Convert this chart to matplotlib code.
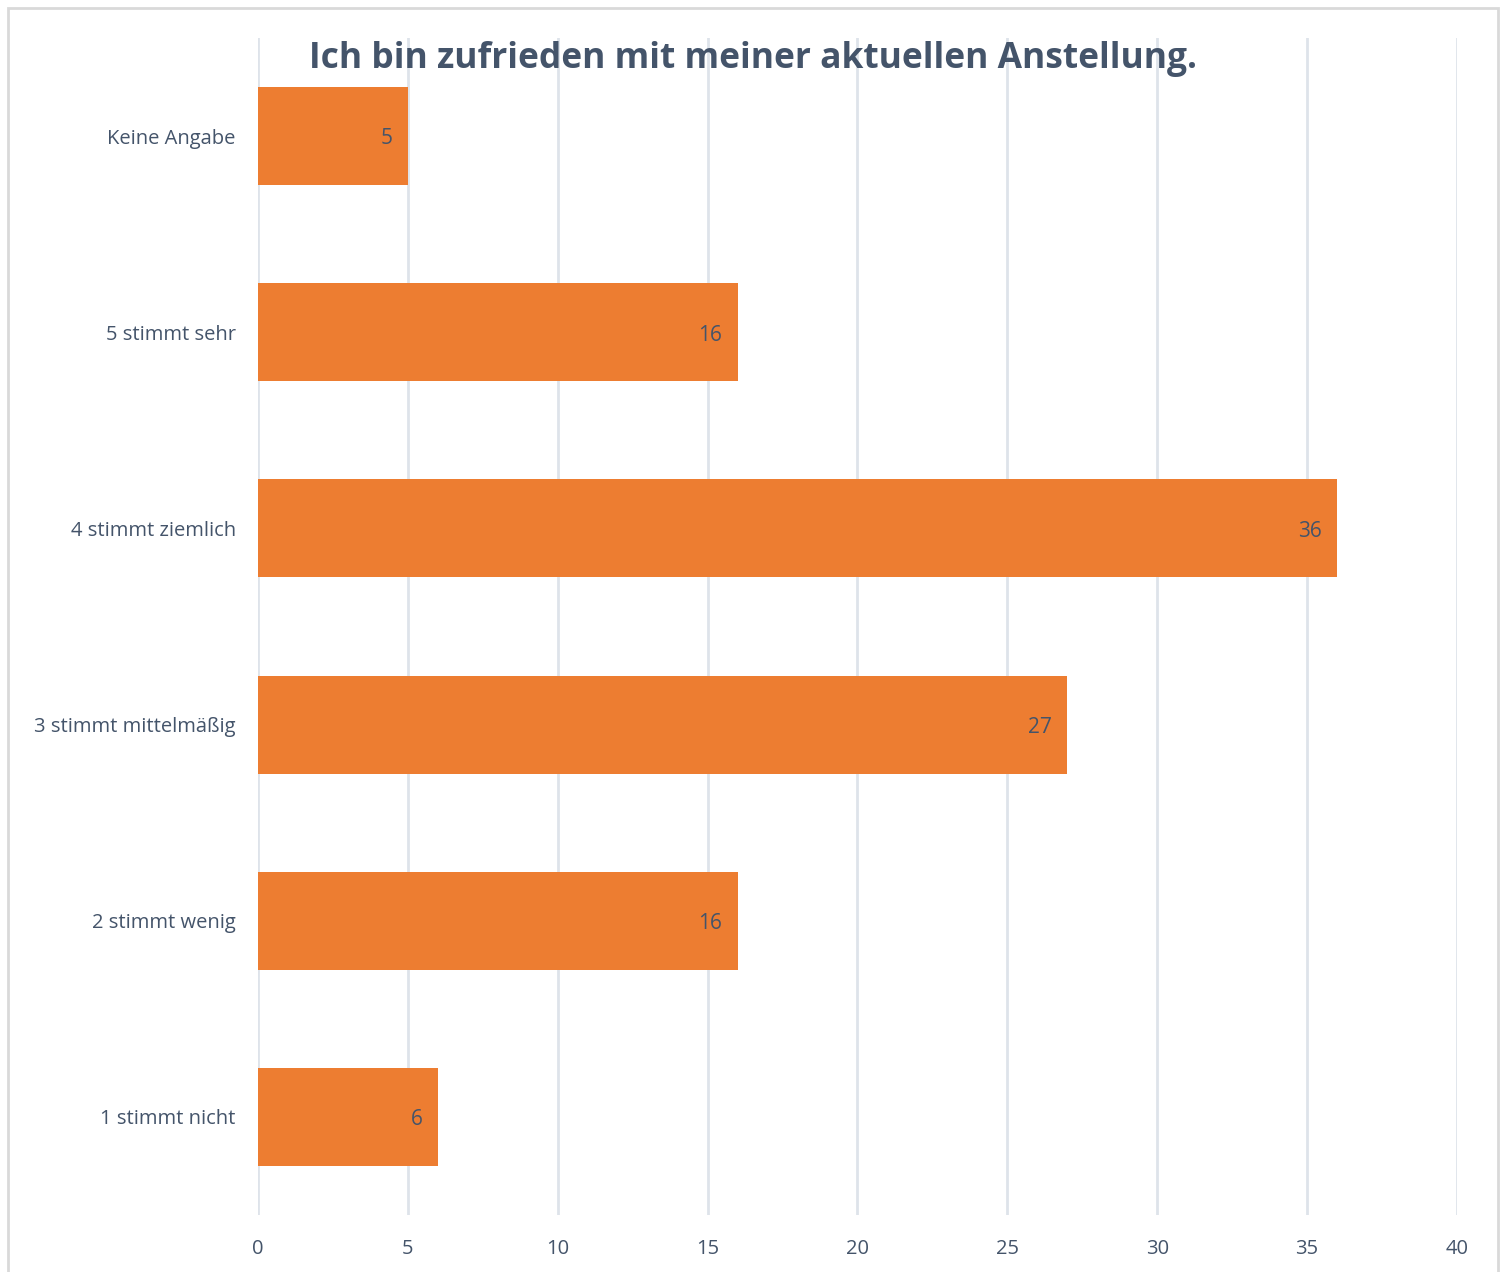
import matplotlib.pyplot as plt
from matplotlib.patches import Rectangle

categories = ["1 stimmt nicht", "2 stimmt wenig", "3 stimmt mittelmäßig",
              "4 stimmt ziemlich", "5 stimmt sehr", "Keine Angabe"]
counts = [6, 16, 27, 36, 16, 5]
xticks = [0, 5, 10, 15, 20, 25, 30, 35, 40]

bar_color = "#ED7D31"
text_color = "#44546A"
grid_color = "#DEE3EA"

plt.rcParams['font.family'] = ['Open Sans', 'DejaVu Sans']

fig = plt.figure(figsize=(15.06, 12.72), dpi=100)
ax = fig.add_axes([258 / 1506, 1 - 1215 / 1272, (1457 - 258) / 1506, (1215 - 38) / 1272])

ypos = list(range(len(categories)))
ax.barh(ypos, counts, height=0.5, color=bar_color, zorder=2)

# value labels inside the bar ends
for y, v in zip(ypos, counts):
    ax.annotate(str(v), (v, y), xytext=(-11, -2), textcoords="offset points",
                ha="right", va="center", fontsize=15, color=text_color, zorder=3)

ax.set_xlim(0, 40)
ax.set_ylim(-0.5, 5.5)
ax.set_xticks(xticks)
ax.set_yticks(ypos)
ax.set_yticklabels(categories)
ax.tick_params(axis="both", length=0, labelsize=14.5, colors=text_color)
ax.tick_params(axis="y", pad=16)
ax.tick_params(axis="x", pad=17)
ax.xaxis.grid(True, color=grid_color, linewidth=2, zorder=0)
for s in ax.spines.values():
    s.set_visible(False)

fig.text(0.5, 1 - 59 / 1272, "Ich bin zufrieden mit meiner aktuellen Anstellung.",
         ha="center", va="center", fontsize=25.5, fontweight="bold", color=text_color)

# chart frame
fig.patches.append(Rectangle((8 / 1506, -0.01), (1498 - 8) / 1506, 1 - 8 / 1272 + 0.01,
                             transform=fig.transFigure, fill=False,
                             edgecolor="#D9D9D9", linewidth=2))

fig.savefig("out.png", dpi=100)
